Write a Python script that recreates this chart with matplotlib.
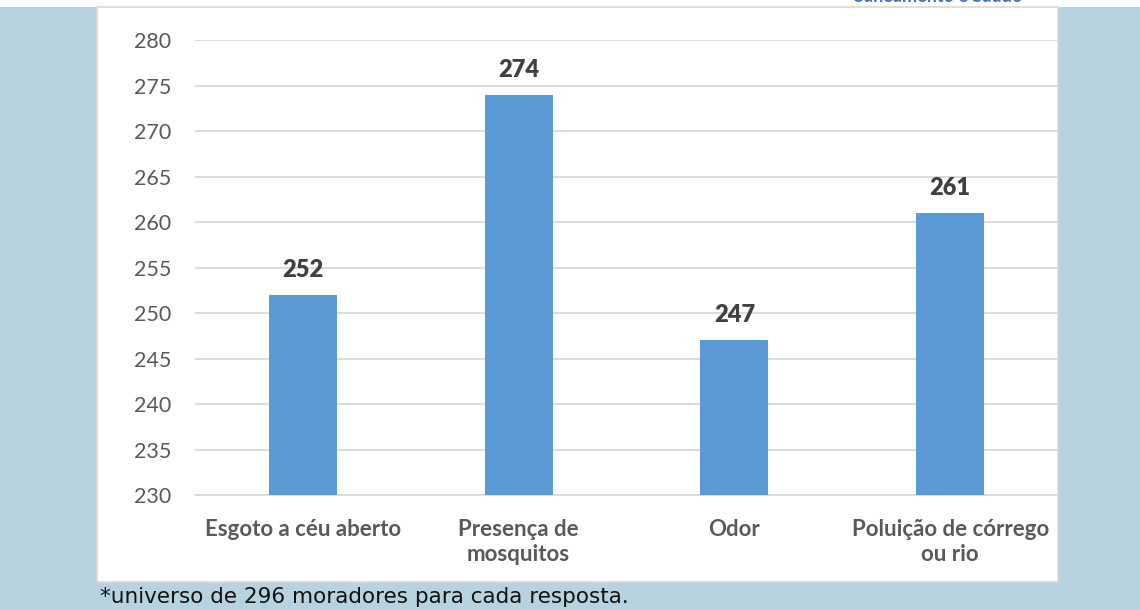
import matplotlib
matplotlib.use("Agg")
import matplotlib.pyplot as plt
from matplotlib.patches import Rectangle

categories = ["Esgoto a céu aberto", "Presença de\nmosquitos", "Odor", "Poluição de córrego\nou rio"]
values = [252, 274, 247, 261]
y_ticks = [230, 235, 240, 245, 250, 255, 260, 265, 270, 275, 280]

W, H = 1140, 610
fig = plt.figure(figsize=(W / 100, H / 100), dpi=100)
fig.patch.set_facecolor("white")

# page background and white chart panel
fig.patches.append(Rectangle((0, 0), 1, (H - 7) / H, transform=fig.transFigure,
                             facecolor="#b7d3df", edgecolor="none", zorder=0))
fig.patches.append(Rectangle((97 / W, (H - 582) / H), (1058 - 97) / W, (582 - 7) / H,
                             transform=fig.transFigure, facecolor="white",
                             edgecolor="#d9d9d9", linewidth=1.2, zorder=1))

ax = fig.add_axes([195 / W, (H - 495) / H, (1058 - 195) / W, 455 / H])
ax.set_zorder(5)
ax.set_facecolor("none")
x = range(len(categories))
ax.bar(x, values, width=0.315, color="#5b9bd5", zorder=3)
ax.set_xlim(-0.5, len(categories) - 0.5)
ax.set_ylim(230, 280)
ax.set_yticks(y_ticks)
ax.set_yticklabels([str(t) for t in y_ticks], fontsize=15.5, color="#595959", family="Lato")
ax.set_xticks(list(x))
ax.set_xticklabels(categories, fontsize=16, color="#595959", fontweight="bold",
                   family="Lato", linespacing=1.25, va="top")
ax.tick_params(axis="both", length=0)
ax.tick_params(axis="y", pad=17)
ax.tick_params(axis="x", pad=17)
ax.grid(axis="y", color="#d9d9d9", linewidth=1.3, zorder=0)
for s in ["top", "right", "left"]:
    ax.spines[s].set_visible(False)
ax.spines["bottom"].set_color("#d9d9d9")
ax.spines["bottom"].set_linewidth(1.3)

for xi, v in zip(x, values):
    ax.annotate(str(v), (xi, v), xytext=(0, 10), textcoords="offset points",
                ha="center", va="bottom", fontsize=17, fontweight="heavy",
                color="#404040", family="Lato")

# header text clipped at the top edge
fig.text(938 / W, (H + 3) / H, "Saneamento e Saúde", ha="center", va="center",
         fontsize=13, fontweight="bold", color="#4472c4", family="Lato")

fig.text(100 / W, (H - 597) / H, "*universo de 296 moradores para cada resposta.",
         ha="left", va="center", fontsize=15.5, color="#111111", family="DejaVu Sans")

fig.savefig("out.png", dpi=100, facecolor=fig.get_facecolor())
